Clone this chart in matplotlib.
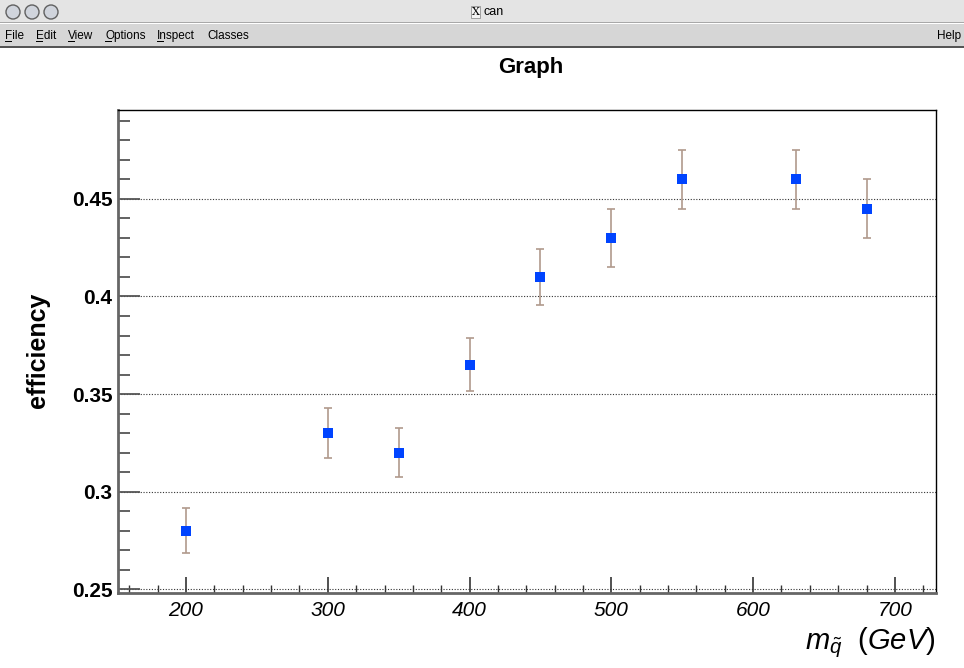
import matplotlib
matplotlib.use("Agg")
import matplotlib.pyplot as plt
from matplotlib.patches import Rectangle, Ellipse
from matplotlib.ticker import MultipleLocator, FuncFormatter

plt.rcParams["font.family"] = ["Liberation Sans", "DejaVu Sans"]
plt.rcParams["mathtext.fontset"] = "custom"
plt.rcParams["mathtext.it"] = "Liberation Sans:italic"
plt.rcParams["mathtext.rm"] = "Liberation Sans"

# squark mass points and selection efficiency
mass = [200, 300, 350, 400, 450, 500, 550, 630, 680]
efficiency = [0.280, 0.330, 0.320, 0.365, 0.410, 0.430, 0.460, 0.460, 0.445]
eff_err = [0.0115, 0.0128, 0.0125, 0.0136, 0.0143, 0.0148, 0.0150, 0.0150, 0.0150]

menu_items = ["File", "Edit", "View", "Options", "Inspect", "Classes"]
menu_x = [5, 36, 68, 105, 157, 207]

fig = plt.figure(figsize=(9.64, 6.68), dpi=100)
W, H = 964.0, 668.0


def fx(px):
    return px / W


def fy(py):
    return 1 - py / H


# window chrome: title bar
fig.patches.append(Rectangle((0, fy(23)), 1, 23 / H, transform=fig.transFigure,
                             facecolor="#e4e4e4", edgecolor="none"))
fig.patches.append(Rectangle((0, fy(23)), 1, 1 / H, transform=fig.transFigure,
                             facecolor="#a8a8a8", edgecolor="none"))
for cx in [13, 32, 51]:
    fig.patches.append(Ellipse((fx(cx), fy(12)), 14 / W, 14 / H, transform=fig.transFigure,
                               facecolor="#d0d4dc", edgecolor="#606060", lw=1.0))
fig.text(fx(472), fy(12), "X", fontsize=8, family="DejaVu Serif", ha="left", va="center",
         bbox=dict(boxstyle="square,pad=0.05", fc="#f4f4f4", ec="#808080", lw=0.5))
fig.text(fx(484), fy(12), "can", fontsize=9, ha="left", va="center")

# menu bar
fig.patches.append(Rectangle((0, fy(46)), 1, 22 / H, transform=fig.transFigure,
                             facecolor="#d6d6d6", edgecolor="none"))
fig.patches.append(Rectangle((0, fy(48)), 1, 2.5 / H, transform=fig.transFigure,
                             facecolor="#555555", edgecolor="none"))
for name, x in zip(menu_items, menu_x):
    fig.text(fx(x), fy(36), name, fontsize=8.5, ha="left", va="center")
    if name != "Classes":
        fig.patches.append(Rectangle((fx(x), fy(42)), 6.5 / W, 0.8 / H,
                                     transform=fig.transFigure,
                                     facecolor="black", edgecolor="none"))
fig.text(fx(961), fy(36), "Help", fontsize=8.5, ha="right", va="center")

# plot area
ax = fig.add_axes([fx(118), fy(593), fx(936) - fx(118), fy(110) - fy(593)])
ax.errorbar(mass, efficiency, yerr=eff_err, fmt="none", ecolor="#b09a8c",
            elinewidth=1.2, capsize=3, capthick=1.2, zorder=2)
ax.plot(mass, efficiency, "s", color="#0044ff", markersize=7.5,
        markeredgewidth=0, zorder=3)

ax.set_xlim(152, 729)
ax.set_ylim(0.248, 0.4956)
ax.xaxis.set_major_locator(MultipleLocator(100))
ax.xaxis.set_minor_locator(MultipleLocator(20))
ax.yaxis.set_major_locator(MultipleLocator(0.05))
ax.yaxis.set_minor_locator(MultipleLocator(0.01))
ax.yaxis.set_major_formatter(FuncFormatter(lambda v, p: "%g" % round(v, 3)))

ax.grid(axis="y", which="major", linestyle=(0, (1, 1.5)), color="#333333", lw=0.8)
ax.tick_params(axis="both", which="both", direction="in", top=False, right=False)
ax.tick_params(axis="y", which="major", length=16, width=1.3, color="#555555")
ax.tick_params(axis="y", which="minor", length=8.5, width=1.3, color="#555555")
ax.tick_params(axis="x", which="major", length=11.5, width=1.2, color="#333333")
ax.tick_params(axis="x", which="minor", length=5.8, width=1.0, color="#333333")
ax.tick_params(axis="y", labelsize=15, pad=4)
ax.tick_params(axis="x", labelsize=15, pad=6)
for lab in ax.get_yticklabels():
    lab.set_fontweight("bold")
for lab in ax.get_xticklabels():
    lab.set_fontstyle("italic")

for side in ["left", "bottom"]:
    ax.spines[side].set_color("#666666")
    ax.spines[side].set_linewidth(2)
for side in ["top", "right"]:
    ax.spines[side].set_color("black")
    ax.spines[side].set_linewidth(1)

fig.text(fx(531), fy(67), "Graph", fontsize=16, fontweight="bold", ha="center", va="center")
fig.text(fx(38), fy(350), "efficiency", fontsize=18, fontweight="bold", rotation=90,
         ha="center", va="center")
fig.text(fx(936), fy(643), r"$m_{\tilde{q}}\ \ (GeV)$", fontsize=21, ha="right", va="center")

fig.savefig("out.png", dpi=100)
